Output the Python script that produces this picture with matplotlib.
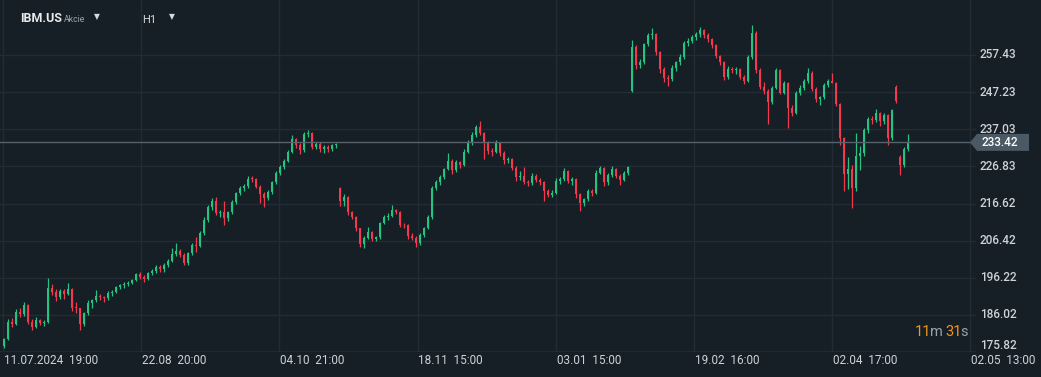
import matplotlib
matplotlib.use("Agg")
import matplotlib.pyplot as plt
from matplotlib.patches import Polygon
from matplotlib.transforms import blended_transform_factory
import numpy as np

# ---------------- data (hourly candles, IBM.US) ----------------
opens = [
 177.6,179.5,184.0,183.6,186.8,186.2,188.6,184.2,182.8,184.6,183.8,184.2,193.5,192.2,191.0,192.5,
 191.8,193.2,188.0,187.8,183.5,186.4,189.2,190.1,191.2,190.8,190.6,192.1,192.4,193.6,194.1,194.6,
 194.9,195.7,197.2,196.5,195.9,197.4,198.0,199.3,198.6,199.8,200.9,202.8,203.6,202.6,200.2,203.0,
 205.1,205.0,208.4,212.0,215.6,217.4,214.0,214.4,212.6,214.2,217.1,219.4,220.8,221.3,223.4,223.3,
 221.2,219.3,218.2,219.9,222.4,224.9,226.6,228.3,230.9,234.3,232.8,231.2,235.6,235.9,232.2,233.1,
 231.6,232.1,231.5,232.6,220.9,217.2,218.3,214.2,213.0,209.8,205.6,207.2,208.7,207.0,207.4,211.3,
 212.9,213.3,214.8,214.4,210.8,210.6,207.6,207.2,205.9,207.9,209.9,212.8,220.9,222.4,223.9,226.1,
 228.4,225.8,228.0,227.2,230.8,233.3,235.5,237.6,236.0,233.4,231.0,230.8,233.3,230.6,228.6,228.8,
 226.5,223.8,224.1,222.6,222.2,224.3,223.0,222.4,220.0,219.0,219.6,222.8,223.4,225.6,222.7,223.3,
 219.1,216.8,217.8,220.1,219.5,225.0,226.3,222.4,224.5,226.2,224.2,223.2,225.0,247.5,259.6,254.8,
 255.6,260.4,262.8,263.2,258.2,253.6,251.2,250.8,253.9,255.4,256.9,260.6,261.2,262.4,263.1,264.3,
 262.8,261.7,260.1,257.1,255.4,251.3,253.5,253.2,253.6,251.4,250.4,256.8,263.6,253.4,248.7,247.6,
 244.4,248.4,253.3,247.1,249.6,242.8,241.6,247.0,248.4,250.2,252.6,248.2,245.4,245.9,249.2,250.3,
 249.8,243.9,234.6,224.6,226.1,220.8,229.8,230.4,236.8,239.8,239.6,241.4,239.2,240.9,234.6,248.6,
 229.4,227.2,231.6]
highs = [
 179.8,185.0,185.2,187.5,188.0,189.5,189.0,184.8,185.5,185.0,184.6,196.2,194.5,193.0,193.2,193.0,
 194.8,193.5,189.5,188.0,186.8,190.0,190.5,192.8,191.8,191.2,192.6,192.9,194.0,194.6,195.0,195.4,
 196.0,197.6,197.8,196.9,197.8,198.5,199.8,199.6,200.3,201.4,204.4,205.8,204.0,203.0,203.4,205.8,
 207.4,209.0,212.8,216.2,218.0,218.5,214.8,217.2,214.7,217.6,219.9,221.4,221.9,224.1,224.2,223.6,
 221.8,219.9,220.4,222.8,225.5,227.2,228.9,231.4,235.4,234.6,233.3,236.2,236.9,236.2,233.6,233.4,
 232.6,232.6,233.0,233.3,221.2,219.2,218.6,214.5,213.2,210.0,207.8,210.2,209.0,207.8,211.6,213.6,
 214.0,216.3,215.2,214.6,211.4,210.9,208.6,207.6,208.4,210.3,213.4,221.5,223.2,224.4,226.5,230.5,
 228.8,228.6,228.4,231.5,234.0,236.2,238.3,239.2,236.4,233.8,231.8,234.0,233.6,231.0,229.4,229.0,
 226.8,225.6,226.6,223.0,224.9,224.8,223.6,222.7,220.6,220.2,223.6,224.0,226.4,225.9,223.8,223.5,
 219.4,218.2,220.7,220.6,225.8,226.9,226.6,224.9,226.8,226.5,224.6,225.5,227.0,261.5,260.3,256.3,
 260.8,263.4,264.9,263.6,258.6,254.1,252.0,254.6,255.8,257.6,261.2,262.1,263.0,263.8,265.0,264.7,
 263.5,262.0,260.5,257.5,255.8,254.4,254.2,254.0,253.9,251.8,257.5,265.8,264.0,253.8,250.0,248.0,
 249.0,253.9,253.6,250.3,250.0,243.6,247.6,249.2,250.8,253.9,252.9,248.6,246.2,249.7,250.8,252.6,
 250.0,244.2,235.0,229.4,227.3,235.9,232.4,237.3,240.5,240.6,242.5,241.8,241.6,241.2,242.6,249.2,
 230.0,232.2,235.7]
lows = [
 176.9,179.0,182.8,183.2,185.5,185.8,183.5,181.8,182.4,183.2,182.9,183.8,191.5,189.8,190.4,190.3,
 191.4,187.0,186.5,181.8,183.0,186.0,187.8,189.6,190.0,189.6,190.2,191.3,192.0,193.0,193.5,194.0,
 194.4,195.2,195.8,195.1,195.6,196.9,197.6,197.9,197.8,199.2,200.5,202.3,201.8,199.6,199.8,202.6,
 203.4,204.6,208.0,211.6,214.9,213.4,212.9,210.7,211.9,213.8,216.6,218.9,220.0,220.8,222.6,220.8,
 216.8,215.7,217.6,219.3,222.0,224.4,226.0,227.9,230.4,232.0,230.2,230.9,234.9,231.6,231.5,230.8,
 230.5,230.8,231.0,232.0,216.0,216.0,213.6,212.5,209.0,204.6,204.4,206.8,206.4,206.2,207.0,211.0,
 212.2,213.0,213.8,210.2,209.9,207.0,206.6,204.6,205.3,207.5,209.5,212.4,220.2,221.8,223.4,225.8,
 224.8,225.3,226.5,227.0,230.4,232.8,234.9,235.4,228.8,230.2,229.6,230.4,229.8,227.6,227.8,225.9,
 222.8,223.2,222.0,221.4,221.8,222.6,221.8,217.3,218.4,218.5,219.2,221.9,222.9,222.2,221.8,218.0,
 214.6,216.0,217.3,218.6,219.1,224.6,221.4,221.8,224.0,223.6,221.7,222.8,224.5,247.2,253.6,253.9,
 255.0,259.8,261.7,257.4,252.5,250.1,248.8,250.2,252.9,254.6,256.4,259.9,260.6,261.5,262.5,262.2,
 261.0,259.4,256.5,254.7,250.5,250.9,252.4,252.3,250.7,249.5,249.9,256.4,252.4,248.0,246.8,238.5,
 244.0,248.0,246.6,246.6,237.4,240.6,241.2,246.4,247.9,249.8,247.6,244.6,243.6,245.4,248.6,249.7,
 243.3,232.8,220.0,220.5,215.3,220.0,225.8,229.6,236.0,238.4,239.0,237.8,238.6,232.6,234.2,244.2,
 224.5,226.6,231.0]
closes = [
 179.5,184.0,183.6,186.8,186.2,188.6,184.2,182.8,184.6,183.8,184.2,193.5,192.2,191.0,192.5,191.8,
 193.2,188.0,187.8,183.5,186.4,189.2,190.1,191.2,190.8,190.6,192.1,192.4,193.6,194.1,194.6,194.9,
 195.7,197.2,196.5,195.9,197.4,198.0,199.3,198.6,199.8,200.9,202.8,203.6,202.6,200.2,203.0,205.1,
 205.0,208.4,212.0,215.6,217.4,214.0,214.4,212.6,214.2,217.1,219.4,220.8,221.3,223.4,223.3,221.2,
 219.3,218.2,219.9,222.4,224.9,226.6,228.3,230.9,234.3,232.8,231.2,235.6,235.9,232.2,233.1,231.6,
 232.1,231.5,232.6,232.8,217.2,218.3,214.2,213.0,209.8,205.6,207.2,208.7,207.0,207.4,211.3,212.9,
 213.3,214.8,214.4,210.8,210.6,207.6,207.2,205.9,207.9,209.9,212.8,220.9,222.4,223.9,226.1,228.4,
 225.8,228.0,227.2,230.8,233.3,235.5,237.6,236.0,233.4,231.0,230.8,233.3,230.6,228.6,228.8,226.5,
 223.8,224.1,222.6,222.2,224.3,223.0,222.4,220.0,219.0,219.6,222.8,223.4,225.6,222.7,223.3,219.1,
 216.8,217.8,220.1,219.5,225.0,226.3,222.4,224.5,226.2,224.2,223.2,225.0,226.7,259.6,254.8,255.6,
 260.4,262.8,263.2,258.2,253.6,251.2,250.8,253.9,255.4,256.9,260.6,261.2,262.4,263.1,264.3,262.8,
 261.7,260.1,257.1,255.4,251.3,253.5,253.2,253.6,251.4,250.4,256.8,263.6,253.4,248.7,247.6,244.4,
 248.4,253.3,247.1,249.6,242.8,241.6,247.0,248.4,250.2,252.6,248.2,245.4,245.9,249.2,250.3,249.8,
 243.9,234.6,224.6,226.1,220.8,229.8,230.4,236.8,239.8,239.6,241.4,239.2,240.9,234.6,242.2,244.8,
 227.2,231.6,233.42]

time_labels = ["11.07.2024  19:00", "22.08  20:00", "04.10  21:00", "18.11  15:00",
               "03.01  15:00", "19.02  16:00", "02.04  17:00", "02.05  13:00"]
price_ticks = [175.82, 186.02, 196.22, 206.42, 216.62, 226.83, 237.03, 247.23, 257.43]
last_price = 233.42
symbol = "IBM.US"
asset_type = "Akcie"
interval = "H1"
countdown = [("11", "m"), ("31", "s")]

# ---------------- style ----------------
BG = "#161e26"
GRID = "#232c35"
UP = "#26c281"
DOWN = "#f23a4c"
TXT = "#cfd3d7"

W, H = 1041, 377
fig = plt.figure(figsize=(W / 100, H / 100), dpi=100, facecolor=BG)
ax = fig.add_axes([0, 25 / H, 1, 1 - 25 / H], facecolor=BG)
for s in ax.spines.values():
    s.set_visible(False)

n = len(closes)
x = np.arange(n)
o = np.array(opens); c = np.array(closes); hi = np.array(highs); lo = np.array(lows)
colors = np.where(c >= o, UP, DOWN)

ax.set_xlim(-1, W / 4 - 1)
ax.set_ylim(175.82, 272.54)

# grid
ax.set_yticks(price_ticks)
ax.set_yticklabels([])
ax.tick_params(left=False, right=False, bottom=False, top=False, labelbottom=False)
for p in price_ticks:
    ax.axhline(p, xmin=0, xmax=975 / W, color=GRID, lw=1, zorder=0)
ax.axhline(price_ticks[0] + 0.12, xmin=0, xmax=975 / W, color=GRID, lw=1.2, zorder=0)
tick_start, tick_step = -0.25, 34.55
tick_pos = [tick_start + k * tick_step for k in range(len(time_labels))]
for tp in tick_pos:
    ax.axvline(tp, color=GRID, lw=1, zorder=0)

# candles
ax.vlines(x, lo, hi, colors=colors, lw=0.9, zorder=2)
body_bottom = np.minimum(o, c)
body_h = np.maximum(np.abs(c - o), 0.25)
ax.bar(x, body_h, bottom=body_bottom, width=0.55, color=colors, lw=0, zorder=3)

# last price line
ax.axhline(last_price, xmin=0, xmax=970 / W, color="#56636d", lw=1, zorder=4)

# price labels (inside at right)
trans_y = blended_transform_factory(fig.transFigure, ax.transData)
for p in price_ticks:
    va = "bottom" if p == price_ticks[0] else "center"
    ax.text(980 / W, p, f"{p:.2f}", transform=trans_y, color=TXT, fontsize=8.5,
            fontfamily="Roboto", fontweight="medium", va=va, ha="left")

# last price tag
yp = ax.transData.transform((0, last_price))[1] / H
hh = 8.5 / H
poly = Polygon([(970 / W, yp), (977 / W, yp + hh), (1029 / W, yp + hh),
                (1029 / W, yp - hh), (977 / W, yp - hh)], closed=True,
               transform=fig.transFigure, facecolor="#4b5964", edgecolor="none", zorder=5)
fig.patches.append(poly)
fig.text(981 / W, yp, f"{last_price:.2f}", color="#ffffff", fontsize=8.5,
         fontfamily="Roboto", fontweight="medium", va="center", ha="left", zorder=6)

# time labels
trans_x = blended_transform_factory(ax.transData, fig.transFigure)
for tp, lab in zip(tick_pos, time_labels):
    ax.text(tp + 0.2, 1 - 360 / H, lab, transform=trans_x, color=TXT, fontsize=8.5,
            fontfamily="Roboto", va="center", ha="left", clip_on=False)

# header
fig.text(20 / W, 1 - 18 / H, symbol, color="#e8eaec", fontsize=9, fontweight="bold",
         fontfamily="Roboto", va="center", ha="left")
fig.text(64 / W, 1 - 19 / H, asset_type, color="#9aa3ab", fontsize=6.3,
         fontfamily="Roboto", va="center", ha="left")
fig.text(97 / W, 1 - 17 / H, "\u25BC", color="#d8dbde", fontsize=5.5,
         fontfamily="DejaVu Sans", va="center", ha="center")
fig.text(142 / W, 1 - 20 / H, interval, color="#d8dbde", fontsize=8,
         fontfamily="Roboto", va="center", ha="left")
fig.text(172 / W, 1 - 17 / H, "\u25BC", color="#d8dbde", fontsize=5.5,
         fontfamily="DejaVu Sans", va="center", ha="center")

# countdown
xpos = 915
for num, unit in countdown:
    fig.text(xpos / W, 1 - 332 / H, num, color="#f0941a", fontsize=10.5,
             fontfamily="Roboto", va="center", ha="left")
    xpos += 15
    fig.text(xpos / W, 1 - 332 / H, unit, color="#9aa3ab", fontsize=10.5,
             fontfamily="Roboto", va="center", ha="left")
    xpos += 15.5

fig.savefig("out.png", dpi=100, facecolor=BG)
